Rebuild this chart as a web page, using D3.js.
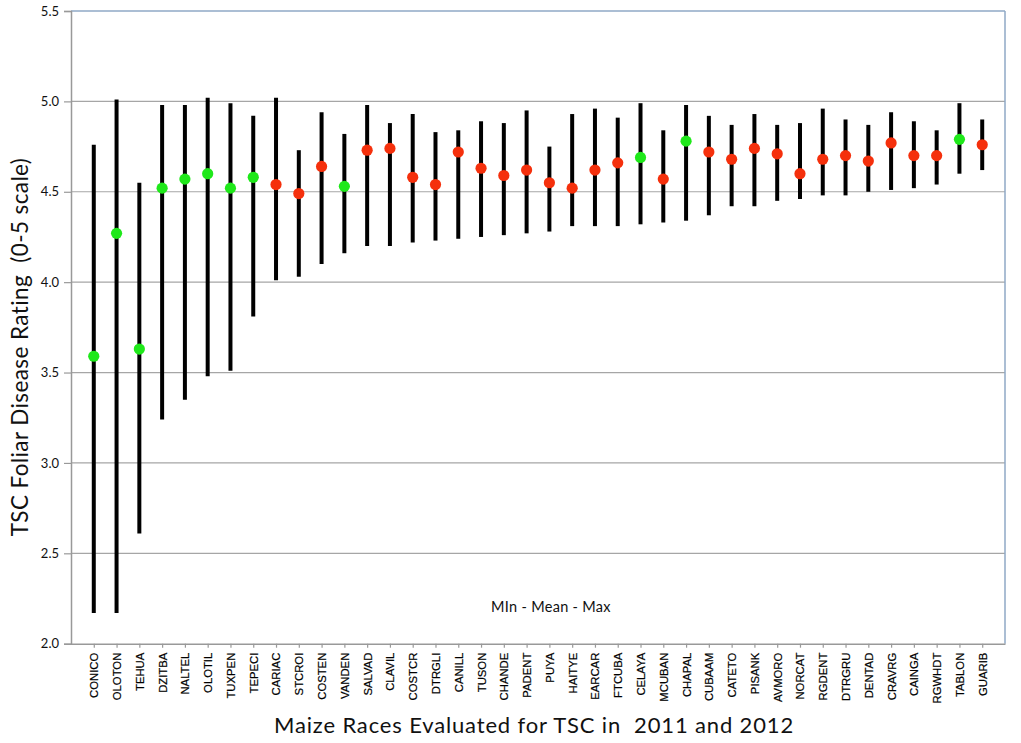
<!DOCTYPE html>
<html>
<head>
<meta charset="utf-8">
<script src="https://cdn.jsdelivr.net/npm/d3@7"></script>
<style>
  html, body { margin: 0; padding: 0; background: #fff; }
  svg { display: block; }
</style>
</head>
<body>
<svg id="chart" width="1021" height="743"></svg>
<script>
const races = ["CONICO","OLOTON","TEHUA","DZITBA","NALTEL","OLOTIL","TUXPEN","TEPECI","CARIAC","STCROI",
  "COSTEN","VANDEN","SALVAD","CLAVIL","COSTCR","DTRGLI","CANILL","TUSON","CHANDE","PADENT",
  "PUYA","HAITYE","EARCAR","FTCUBA","CELAYA","MCUBAN","CHAPAL","CUBAAM","CATETO","PISANK",
  "AVMORO","NORCAT","RGDENT","DTRGRU","DENTAD","CRAVRG","CAINGA","RGWHDT","TABLON","GUARIB"];
const minVals = [2.17,2.17,2.61,3.24,3.35,3.48,3.51,3.81,4.01,4.03,
  4.10,4.16,4.20,4.20,4.22,4.23,4.24,4.25,4.26,4.27,
  4.28,4.31,4.31,4.31,4.32,4.33,4.34,4.37,4.42,4.42,
  4.45,4.46,4.48,4.48,4.50,4.51,4.52,4.54,4.60,4.62];
const meanVals = [3.59,4.27,3.63,4.52,4.57,4.60,4.52,4.58,4.54,4.49,
  4.64,4.53,4.73,4.74,4.58,4.54,4.72,4.63,4.59,4.62,
  4.55,4.52,4.62,4.66,4.69,4.57,4.78,4.72,4.68,4.74,
  4.71,4.60,4.68,4.70,4.67,4.77,4.70,4.70,4.79,4.76];
const maxVals = [4.76,5.01,4.55,4.98,4.98,5.02,4.99,4.92,5.02,4.73,
  4.94,4.82,4.98,4.88,4.93,4.83,4.84,4.89,4.88,4.95,
  4.75,4.93,4.96,4.91,4.99,4.84,4.98,4.92,4.87,4.93,
  4.87,4.88,4.96,4.90,4.87,4.94,4.89,4.84,4.99,4.90];
const groups = ["g","g","g","g","g","g","g","g","r","r",
  "r","g","r","r","r","r","r","r","r","r",
  "r","r","r","r","g","r","g","r","r","r",
  "r","r","r","r","r","r","r","r","g","r"];
const yTicks = [2.0,2.5,3.0,3.5,4.0,4.5,5.0,5.5];
const colors = { g: "#1fe81a", r: "#f5300c" };

const data = races.map((r, i) => ({ race: r, min: minVals[i], mean: meanVals[i], max: maxVals[i], grp: groups[i] }));

const svg = d3.select("#chart");
const L = 71, R = 1005, T = 11, B = 643.7;

const x = d3.scalePoint().domain(races).range([L, R]).padding(1);
const y = d3.scaleLinear().domain([2.0, 5.5]).range([B, T]);

// gridlines
svg.append("g").selectAll("line").data(yTicks.filter(v => v > 2.0 && v < 5.5)).join("line")
  .attr("x1", L).attr("x2", R)
  .attr("y1", d => y(d)).attr("y2", d => y(d))
  .attr("stroke", "#a6a6a6").attr("stroke-width", 1.2);

// frame top/right (bluish)
svg.append("line").attr("x1", L).attr("x2", R).attr("y1", T).attr("y2", T)
  .attr("stroke", "#8fa9c6").attr("stroke-width", 1.5);
svg.append("line").attr("x1", R).attr("x2", R).attr("y1", T).attr("y2", B)
  .attr("stroke", "#8fa9c6").attr("stroke-width", 1.5);

// y axis
const yAxis = svg.append("g").attr("transform", `translate(${L},0)`)
  .call(d3.axisLeft(y).tickValues(yTicks).tickFormat(d3.format(".1f")).tickSize(7).tickPadding(5));
yAxis.select(".domain").attr("stroke", "#999").attr("stroke-width", 1.5);
yAxis.selectAll(".tick line").attr("stroke", "#999").attr("stroke-width", 1.2);
yAxis.selectAll("text").attr("font-family", "Lato, 'Open Sans', sans-serif").attr("font-size", 13).attr("fill", "#111");

// x axis
const xAxis = svg.append("g").attr("transform", `translate(0,${B})`)
  .call(d3.axisBottom(x).tickSize(4).tickSizeOuter(0).tickPadding(0));
xAxis.select(".domain").attr("stroke", "#999").attr("stroke-width", 1.5);
xAxis.selectAll(".tick line").attr("stroke", "#999").attr("stroke-width", 1.2);
xAxis.selectAll("text")
  .attr("font-family", "'Liberation Sans', Arial, sans-serif")
  .attr("font-size", 11.3)
  .attr("fill", "#000")
  .attr("stroke", "#000").attr("stroke-width", 0.2)
  .attr("transform", "rotate(-90)")
  .attr("text-anchor", "end")
  .attr("dy", "0.35em")
  .attr("x", -9).attr("y", 0);

// whiskers
svg.append("g").selectAll("line").data(data).join("line")
  .attr("x1", d => x(d.race)).attr("x2", d => x(d.race))
  .attr("y1", d => y(d.min)).attr("y2", d => y(d.max))
  .attr("stroke", "#000").attr("stroke-width", 4);

// means
svg.append("g").selectAll("circle").data(data).join("circle")
  .attr("cx", d => x(d.race)).attr("cy", d => y(d.mean))
  .attr("r", 5.6)
  .attr("fill", d => colors[d.grp]);

// annotation
svg.append("text").attr("x", 551).attr("y", 612)
  .attr("text-anchor", "middle")
  .attr("font-family", "Lato, 'Open Sans', sans-serif").attr("font-size", 14.5)
  .attr("letter-spacing", 0.3).attr("fill", "#111")
  .text("MIn - Mean - Max");

// axis titles
svg.append("text").attr("x", 534).attr("y", 733)
  .attr("text-anchor", "middle")
  .attr("font-family", "Lato, 'Open Sans', sans-serif").attr("font-size", 22)
  .attr("letter-spacing", 0.85).attr("fill", "#111")
  .style("white-space", "pre")
  .text("Maize Races Evaluated for TSC in  2011 and 2012");

svg.append("text").attr("transform", "translate(28,347) rotate(-90)")
  .attr("text-anchor", "middle")
  .attr("font-family", "Lato, 'Open Sans', sans-serif").attr("font-size", 22.5)
  .attr("letter-spacing", 0.4).attr("fill", "#111")
  .style("white-space", "pre")
  .text("TSC Foliar Disease Rating  (0-5 scale)");
</script>
</body>
</html>
